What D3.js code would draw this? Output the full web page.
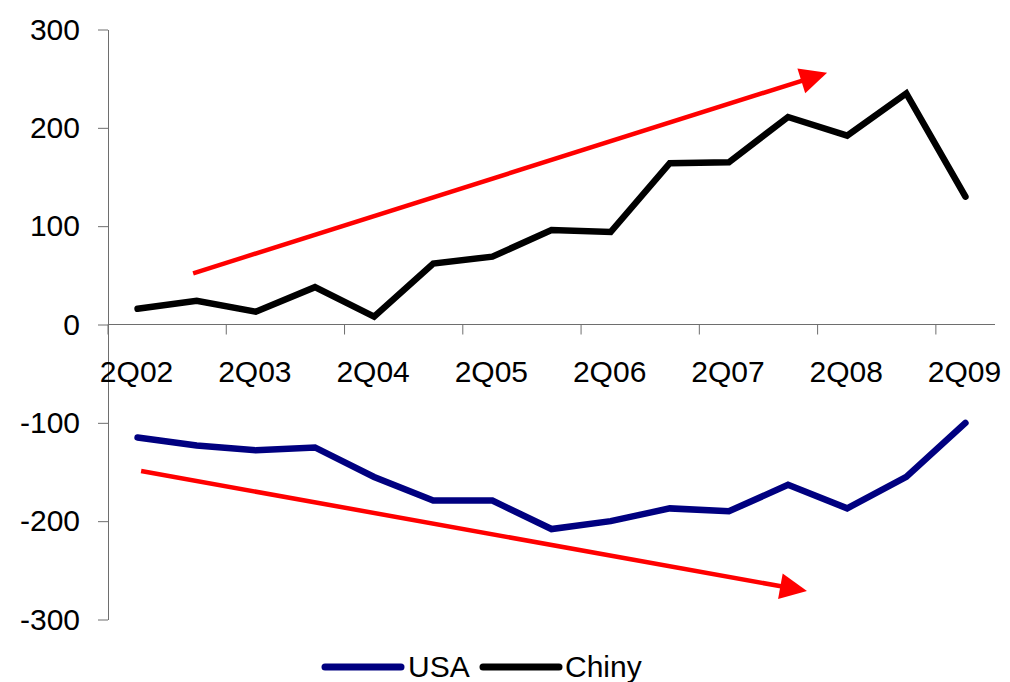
<!DOCTYPE html>
<html>
<head>
<meta charset="utf-8">
<script src="https://cdn.jsdelivr.net/npm/d3@7"></script>
<style>
  html, body { margin: 0; padding: 0; background: #fff; }
  svg { display: block; }
  text { font-family: Arial, "Liberation Sans", sans-serif; fill: #000; }
</style>
</head>
<body>
<svg id="chart" width="1010" height="682"></svg>
<script>
// ---- data ----
const categories = ["2Q02","4Q02","2Q03","4Q03","2Q04","4Q04","2Q05","4Q05","2Q06","4Q06","2Q07","4Q07","2Q08","4Q08","2Q09"];
const tickLabels = ["2Q02","2Q03","2Q04","2Q05","2Q06","2Q07","2Q08","2Q09"];
const yTicks = [-300, -200, -100, 0, 100, 200, 300];
const usa   = [-115, -123, -128, -125, -155, -179, -179, -208, -200, -187, -190, -163, -187, -155, -100];
const chiny = [16, 24, 13, 38, 8, 62, 69, 96, 94, 164, 165, 211, 192, 235, 130];
const seriesNames = ["USA", "Chiny"];
const seriesColors = ["#000080", "#000000"];
// trend arrows: [startIndex, startValue, endIndex, endValue]
const trendUp   = [0.94, 52, 11.66, 256];
const trendDown = [0.06, -149, 11.32, -271];

// ---- layout ----
const svg = d3.select("#chart");
const plotLeft = 108, plotRight = 995, plotTop = 29.5, plotBottom = 619.5;

const x = d3.scaleBand().domain(categories).range([plotLeft, plotRight]).padding(0);
const bw = x.bandwidth();
const xi = d3.scaleLinear().domain([0, categories.length - 1])
  .range([x(categories[0]) + bw / 2, x(categories[categories.length - 1]) + bw / 2]);
const y = d3.scaleLinear().domain([-300, 300]).range([plotBottom, plotTop]);

const axisColor = "#6e6e6e";

// y axis
const yAxis = svg.append("g").attr("transform", `translate(${plotLeft},0)`)
  .call(d3.axisLeft(y).tickValues(yTicks).tickSizeInner(10).tickSizeOuter(0).tickPadding(18).tickFormat(d => String(d)));
yAxis.select(".domain").attr("stroke", axisColor);
yAxis.selectAll(".tick line").attr("stroke", axisColor);
yAxis.selectAll("text").attr("font-size", 30).attr("fill", "#000")
  .attr("font-family", "Arial, 'Liberation Sans', sans-serif").attr("dy", "0.32em");

// x axis at y=0
const y0 = y(0);
svg.append("line").attr("x1", plotLeft).attr("x2", plotRight).attr("y1", y0).attr("y2", y0)
  .attr("stroke", axisColor).attr("stroke-width", 1);
const xt = svg.append("g");
tickLabels.forEach(lbl => {
  const px = x(lbl);
  xt.append("line").attr("x1", px).attr("x2", px).attr("y1", y0).attr("y2", y0 + 10)
    .attr("stroke", axisColor).attr("stroke-width", 1);
  xt.append("text").attr("x", px + bw / 2 - 1).attr("y", y0 + 57)
    .attr("text-anchor", "middle").attr("font-size", 30).text(lbl);
});

// lines
const line = d3.line().x((d, i) => xi(i)).y(d => y(d)).curve(d3.curveLinear);
[usa, chiny].forEach((s, k) => {
  svg.append("path").datum(s).attr("d", line)
    .attr("fill", "none").attr("stroke", seriesColors[k]).attr("stroke-width", 6.5)
    .attr("stroke-linecap", "round").attr("stroke-linejoin", "miter");
});

// arrows
function arrow(a) {
  const x1 = xi(a[0]), y1 = y(a[1]), x2 = xi(a[2]), y2 = y(a[3]);
  const dx = x2 - x1, dy = y2 - y1, len = Math.hypot(dx, dy);
  const ux = dx / len, uy = dy / len;
  const hl = 27, hw = 13;
  const bx = x2 - ux * hl, by = y2 - uy * hl;
  svg.append("line").attr("x1", x1).attr("y1", y1).attr("x2", bx + ux * 2).attr("y2", by + uy * 2)
    .attr("stroke", "#ff0000").attr("stroke-width", 4.5);
  svg.append("path")
    .attr("d", `M${x2},${y2}L${bx - uy * hw},${by + ux * hw}L${bx + uy * hw},${by - ux * hw}Z`)
    .attr("fill", "#ff0000");
}
arrow(trendUp);
arrow(trendDown);

// legend
const legY = 667;
const leg = svg.append("g");
const legItems = [{x: 325, tx: 408}, {x: 483, tx: 565}];
seriesNames.forEach((n, k) => {
  leg.append("line").attr("x1", legItems[k].x).attr("x2", legItems[k].x + 76)
    .attr("y1", legY).attr("y2", legY).attr("stroke", seriesColors[k]).attr("stroke-width", 7)
    .attr("stroke-linecap", "round");
  leg.append("text").attr("x", legItems[k].tx).attr("y", legY + 10).attr("font-size", 30).text(n);
});
</script>
</body>
</html>
